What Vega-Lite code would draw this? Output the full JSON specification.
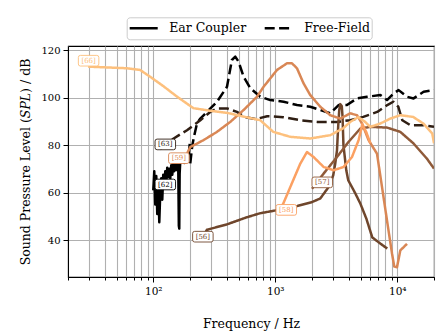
{
  "$schema": "https://vega.github.io/schema/vega-lite/v6.json",
  "width": 366,
  "height": 231,
  "autosize": {"type": "none"},
  "padding": {"left": 68, "top": 46, "right": 14, "bottom": 59},
  "background": "white",
  "config": {
    "view": {"stroke": "black", "strokeWidth": 1.1},
    "font": "DejaVu Serif",
    "axis": {
      "domainColor": "black",
      "tickColor": "black",
      "labelColor": "black",
      "titleColor": "black",
      "labelFont": "DejaVu Serif",
      "titleFont": "DejaVu Serif",
      "titleFontWeight": "normal",
      "grid": true,
      "gridColor": "#b0b0b0",
      "gridWidth": 1.1
    }
  },
  "datasets": {
    "lines": [
      {"s": "[62]", "t": "Ear Coupler", "f": 100.0, "y": 60.9},
      {"s": "[62]", "t": "Ear Coupler", "f": 101.9, "y": 69.0},
      {"s": "[62]", "t": "Ear Coupler", "f": 103.8, "y": 55.0},
      {"s": "[62]", "t": "Ear Coupler", "f": 105.8, "y": 67.0},
      {"s": "[62]", "t": "Ear Coupler", "f": 107.8, "y": 51.0},
      {"s": "[62]", "t": "Ear Coupler", "f": 109.9, "y": 64.0},
      {"s": "[62]", "t": "Ear Coupler", "f": 112.0, "y": 47.5},
      {"s": "[62]", "t": "Ear Coupler", "f": 114.1, "y": 60.0},
      {"s": "[62]", "t": "Ear Coupler", "f": 116.3, "y": 66.0},
      {"s": "[62]", "t": "Ear Coupler", "f": 118.5, "y": 57.0},
      {"s": "[62]", "t": "Ear Coupler", "f": 120.7, "y": 67.5},
      {"s": "[62]", "t": "Ear Coupler", "f": 123.0, "y": 62.0},
      {"s": "[62]", "t": "Ear Coupler", "f": 125.4, "y": 69.0},
      {"s": "[62]", "t": "Ear Coupler", "f": 127.8, "y": 64.5},
      {"s": "[62]", "t": "Ear Coupler", "f": 130.2, "y": 70.5},
      {"s": "[62]", "t": "Ear Coupler", "f": 132.7, "y": 66.5},
      {"s": "[62]", "t": "Ear Coupler", "f": 135.2, "y": 70.0},
      {"s": "[62]", "t": "Ear Coupler", "f": 137.8, "y": 66.0},
      {"s": "[62]", "t": "Ear Coupler", "f": 140.4, "y": 71.5},
      {"s": "[62]", "t": "Ear Coupler", "f": 143.1, "y": 67.5},
      {"s": "[62]", "t": "Ear Coupler", "f": 145.8, "y": 72.0},
      {"s": "[62]", "t": "Ear Coupler", "f": 148.6, "y": 69.0},
      {"s": "[62]", "t": "Ear Coupler", "f": 151.4, "y": 73.0},
      {"s": "[62]", "t": "Ear Coupler", "f": 154.3, "y": 69.5},
      {"s": "[62]", "t": "Ear Coupler", "f": 157.3, "y": 73.0},
      {"s": "[62]", "t": "Ear Coupler", "f": 160.3, "y": 70.0},
      {"s": "[62]", "t": "Ear Coupler", "f": 162.0, "y": 46.0},
      {"s": "[62]", "t": "Ear Coupler", "f": 163.3, "y": 44.8},
      {"s": "[62]", "t": "Ear Coupler", "f": 164.5, "y": 68.0},
      {"s": "[62]", "t": "Ear Coupler", "f": 166.4, "y": 73.0},
      {"s": "[62]", "t": "Ear Coupler", "f": 172.9, "y": 74.0},
      {"s": "[62]", "t": "Ear Coupler", "f": 179.5, "y": 72.5},
      {"s": "[62]", "t": "Ear Coupler", "f": 186.4, "y": 75.5},
      {"s": "[62]", "t": "Ear Coupler", "f": 193.6, "y": 74.0},
      {"s": "[62]", "t": "Ear Coupler", "f": 199.0, "y": 80.5},
      {"s": "[62]", "t": "Free-Field", "f": 201, "y": 72.3},
      {"s": "[62]", "t": "Free-Field", "f": 209, "y": 80.0},
      {"s": "[62]", "t": "Free-Field", "f": 217, "y": 84.2},
      {"s": "[62]", "t": "Free-Field", "f": 228, "y": 89.1},
      {"s": "[62]", "t": "Free-Field", "f": 243, "y": 91.2},
      {"s": "[62]", "t": "Free-Field", "f": 275, "y": 94.0},
      {"s": "[62]", "t": "Free-Field", "f": 333, "y": 98.3},
      {"s": "[62]", "t": "Free-Field", "f": 402, "y": 104.6},
      {"s": "[62]", "t": "Free-Field", "f": 441, "y": 115.9},
      {"s": "[62]", "t": "Free-Field", "f": 470, "y": 117.3},
      {"s": "[62]", "t": "Free-Field", "f": 500, "y": 115.2},
      {"s": "[62]", "t": "Free-Field", "f": 550, "y": 108.8},
      {"s": "[62]", "t": "Free-Field", "f": 623, "y": 104.1},
      {"s": "[62]", "t": "Free-Field", "f": 753, "y": 100.4},
      {"s": "[62]", "t": "Free-Field", "f": 910, "y": 99.0},
      {"s": "[62]", "t": "Free-Field", "f": 1170, "y": 98.3},
      {"s": "[62]", "t": "Free-Field", "f": 1507, "y": 96.9},
      {"s": "[62]", "t": "Free-Field", "f": 1936, "y": 96.2},
      {"s": "[62]", "t": "Free-Field", "f": 2338, "y": 94.8},
      {"s": "[62]", "t": "Free-Field", "f": 2825, "y": 93.4},
      {"s": "[62]", "t": "Free-Field", "f": 3306, "y": 96.9},
      {"s": "[62]", "t": "Free-Field", "f": 3870, "y": 96.9},
      {"s": "[62]", "t": "Free-Field", "f": 4677, "y": 99.7},
      {"s": "[62]", "t": "Free-Field", "f": 5650, "y": 100.4},
      {"s": "[62]", "t": "Free-Field", "f": 7260, "y": 101.1},
      {"s": "[62]", "t": "Free-Field", "f": 8240, "y": 99.0},
      {"s": "[62]", "t": "Free-Field", "f": 9330, "y": 101.8},
      {"s": "[62]", "t": "Free-Field", "f": 10260, "y": 103.2},
      {"s": "[62]", "t": "Free-Field", "f": 12020, "y": 100.4},
      {"s": "[62]", "t": "Free-Field", "f": 13600, "y": 99.7},
      {"s": "[62]", "t": "Free-Field", "f": 16440, "y": 102.5},
      {"s": "[62]", "t": "Free-Field", "f": 20000, "y": 103.2},
      {"s": "[63]", "t": "Free-Field", "f": 114, "y": 78.3},
      {"s": "[63]", "t": "Free-Field", "f": 147, "y": 82.8},
      {"s": "[63]", "t": "Free-Field", "f": 189, "y": 86.3},
      {"s": "[63]", "t": "Free-Field", "f": 243, "y": 90.5},
      {"s": "[63]", "t": "Free-Field", "f": 293, "y": 94.0},
      {"s": "[63]", "t": "Free-Field", "f": 333, "y": 95.5},
      {"s": "[63]", "t": "Free-Field", "f": 402, "y": 95.5},
      {"s": "[63]", "t": "Free-Field", "f": 485, "y": 94.0},
      {"s": "[63]", "t": "Free-Field", "f": 567, "y": 91.8},
      {"s": "[63]", "t": "Free-Field", "f": 698, "y": 91.0},
      {"s": "[63]", "t": "Free-Field", "f": 859, "y": 92.2},
      {"s": "[63]", "t": "Free-Field", "f": 1164, "y": 91.8},
      {"s": "[63]", "t": "Free-Field", "f": 1603, "y": 90.5},
      {"s": "[63]", "t": "Free-Field", "f": 2208, "y": 89.8},
      {"s": "[63]", "t": "Free-Field", "f": 3220, "y": 89.8},
      {"s": "[63]", "t": "Free-Field", "f": 4121, "y": 90.5},
      {"s": "[63]", "t": "Free-Field", "f": 5260, "y": 91.9},
      {"s": "[63]", "t": "Free-Field", "f": 6850, "y": 94.0},
      {"s": "[63]", "t": "Free-Field", "f": 8280, "y": 96.9},
      {"s": "[63]", "t": "Free-Field", "f": 9270, "y": 98.3},
      {"s": "[63]", "t": "Free-Field", "f": 10190, "y": 96.2},
      {"s": "[63]", "t": "Free-Field", "f": 10990, "y": 90.5},
      {"s": "[63]", "t": "Free-Field", "f": 12790, "y": 88.4},
      {"s": "[63]", "t": "Free-Field", "f": 16360, "y": 88.4},
      {"s": "[63]", "t": "Free-Field", "f": 20000, "y": 87.7},
      {"s": "[56]", "t": "Ear Coupler", "f": 257, "y": 41.5},
      {"s": "[56]", "t": "Ear Coupler", "f": 275, "y": 44.3},
      {"s": "[56]", "t": "Ear Coupler", "f": 402, "y": 46.6},
      {"s": "[56]", "t": "Ear Coupler", "f": 586, "y": 49.6},
      {"s": "[56]", "t": "Ear Coupler", "f": 753, "y": 51.3},
      {"s": "[56]", "t": "Ear Coupler", "f": 1014, "y": 52.5},
      {"s": "[56]", "t": "Ear Coupler", "f": 1413, "y": 53.9},
      {"s": "[56]", "t": "Ear Coupler", "f": 2000, "y": 56.0},
      {"s": "[56]", "t": "Ear Coupler", "f": 2338, "y": 57.5},
      {"s": "[56]", "t": "Ear Coupler", "f": 2734, "y": 62.3},
      {"s": "[56]", "t": "Ear Coupler", "f": 2986, "y": 67.3},
      {"s": "[56]", "t": "Ear Coupler", "f": 3100, "y": 72.2},
      {"s": "[56]", "t": "Ear Coupler", "f": 3205, "y": 77.8},
      {"s": "[56]", "t": "Ear Coupler", "f": 3283, "y": 88.4},
      {"s": "[56]", "t": "Ear Coupler", "f": 3345, "y": 94.8},
      {"s": "[56]", "t": "Ear Coupler", "f": 3412, "y": 97.3},
      {"s": "[56]", "t": "Ear Coupler", "f": 3510, "y": 96.4},
      {"s": "[56]", "t": "Ear Coupler", "f": 3560, "y": 92.0},
      {"s": "[56]", "t": "Ear Coupler", "f": 3620, "y": 80.0},
      {"s": "[56]", "t": "Ear Coupler", "f": 3820, "y": 69.4},
      {"s": "[56]", "t": "Ear Coupler", "f": 3964, "y": 65.2},
      {"s": "[56]", "t": "Ear Coupler", "f": 4525, "y": 59.7},
      {"s": "[56]", "t": "Ear Coupler", "f": 4977, "y": 55.4},
      {"s": "[56]", "t": "Ear Coupler", "f": 5570, "y": 49.1},
      {"s": "[56]", "t": "Ear Coupler", "f": 6240, "y": 41.1},
      {"s": "[56]", "t": "Ear Coupler", "f": 7260, "y": 38.5},
      {"s": "[56]", "t": "Ear Coupler", "f": 8280, "y": 36.4},
      {"s": "[57]", "t": "Ear Coupler", "f": 2000, "y": 61.6},
      {"s": "[57]", "t": "Ear Coupler", "f": 2490, "y": 68.0},
      {"s": "[57]", "t": "Ear Coupler", "f": 3205, "y": 75.0},
      {"s": "[57]", "t": "Ear Coupler", "f": 3990, "y": 81.4},
      {"s": "[57]", "t": "Ear Coupler", "f": 4977, "y": 87.0},
      {"s": "[57]", "t": "Ear Coupler", "f": 6011, "y": 87.7},
      {"s": "[57]", "t": "Ear Coupler", "f": 8240, "y": 87.4},
      {"s": "[57]", "t": "Ear Coupler", "f": 10580, "y": 85.6},
      {"s": "[57]", "t": "Ear Coupler", "f": 13600, "y": 80.7},
      {"s": "[57]", "t": "Ear Coupler", "f": 17500, "y": 74.3},
      {"s": "[57]", "t": "Ear Coupler", "f": 20000, "y": 70.1},
      {"s": "[59]", "t": "Ear Coupler", "f": 189, "y": 76.4},
      {"s": "[59]", "t": "Ear Coupler", "f": 201, "y": 79.2},
      {"s": "[59]", "t": "Ear Coupler", "f": 258, "y": 82.1},
      {"s": "[59]", "t": "Ear Coupler", "f": 333, "y": 85.6},
      {"s": "[59]", "t": "Ear Coupler", "f": 428, "y": 89.8},
      {"s": "[59]", "t": "Ear Coupler", "f": 550, "y": 94.8},
      {"s": "[59]", "t": "Ear Coupler", "f": 708, "y": 100.4},
      {"s": "[59]", "t": "Ear Coupler", "f": 802, "y": 104.6},
      {"s": "[59]", "t": "Ear Coupler", "f": 1033, "y": 111.7},
      {"s": "[59]", "t": "Ear Coupler", "f": 1247, "y": 114.5},
      {"s": "[59]", "t": "Ear Coupler", "f": 1371, "y": 114.5},
      {"s": "[59]", "t": "Ear Coupler", "f": 1507, "y": 112.4},
      {"s": "[59]", "t": "Ear Coupler", "f": 1707, "y": 106.0},
      {"s": "[59]", "t": "Ear Coupler", "f": 1936, "y": 101.1},
      {"s": "[59]", "t": "Ear Coupler", "f": 2338, "y": 96.2},
      {"s": "[59]", "t": "Ear Coupler", "f": 2825, "y": 92.6},
      {"s": "[59]", "t": "Ear Coupler", "f": 3412, "y": 91.2},
      {"s": "[59]", "t": "Ear Coupler", "f": 4121, "y": 93.4},
      {"s": "[59]", "t": "Ear Coupler", "f": 4677, "y": 92.6},
      {"s": "[59]", "t": "Ear Coupler", "f": 5140, "y": 89.1},
      {"s": "[59]", "t": "Ear Coupler", "f": 5820, "y": 82.1},
      {"s": "[59]", "t": "Ear Coupler", "f": 6820, "y": 76.4},
      {"s": "[59]", "t": "Ear Coupler", "f": 7500, "y": 62.3},
      {"s": "[59]", "t": "Ear Coupler", "f": 8240, "y": 48.2},
      {"s": "[59]", "t": "Ear Coupler", "f": 9060, "y": 34.2},
      {"s": "[59]", "t": "Ear Coupler", "f": 9450, "y": 28.8},
      {"s": "[59]", "t": "Ear Coupler", "f": 9950, "y": 28.5},
      {"s": "[59]", "t": "Ear Coupler", "f": 10590, "y": 35.6},
      {"s": "[59]", "t": "Ear Coupler", "f": 12020, "y": 38.4},
      {"s": "[58]", "t": "Ear Coupler", "f": 1100, "y": 53.5},
      {"s": "[58]", "t": "Ear Coupler", "f": 1164, "y": 55.4},
      {"s": "[58]", "t": "Ear Coupler", "f": 1327, "y": 62.3},
      {"s": "[58]", "t": "Ear Coupler", "f": 1603, "y": 72.2},
      {"s": "[58]", "t": "Ear Coupler", "f": 1820, "y": 77.1},
      {"s": "[58]", "t": "Ear Coupler", "f": 2060, "y": 75.0},
      {"s": "[58]", "t": "Ear Coupler", "f": 2490, "y": 70.8},
      {"s": "[58]", "t": "Ear Coupler", "f": 3007, "y": 69.4},
      {"s": "[58]", "t": "Ear Coupler", "f": 3631, "y": 70.8},
      {"s": "[58]", "t": "Ear Coupler", "f": 4255, "y": 75.0},
      {"s": "[58]", "t": "Ear Coupler", "f": 4820, "y": 82.1},
      {"s": "[58]", "t": "Ear Coupler", "f": 5170, "y": 88.8},
      {"s": "[58]", "t": "Ear Coupler", "f": 5570, "y": 85.5},
      {"s": "[58]", "t": "Ear Coupler", "f": 6011, "y": 80.8},
      {"s": "[66]", "t": "Ear Coupler", "f": 29.3, "y": 113.1},
      {"s": "[66]", "t": "Ear Coupler", "f": 44.5, "y": 112.7},
      {"s": "[66]", "t": "Ear Coupler", "f": 61.2, "y": 112.4},
      {"s": "[66]", "t": "Ear Coupler", "f": 78, "y": 111.7},
      {"s": "[66]", "t": "Ear Coupler", "f": 94.5, "y": 108.8},
      {"s": "[66]", "t": "Ear Coupler", "f": 120.7, "y": 104.9},
      {"s": "[66]", "t": "Ear Coupler", "f": 157, "y": 100.4},
      {"s": "[66]", "t": "Ear Coupler", "f": 213, "y": 95.6},
      {"s": "[66]", "t": "Ear Coupler", "f": 293, "y": 94.5},
      {"s": "[66]", "t": "Ear Coupler", "f": 404, "y": 93.6},
      {"s": "[66]", "t": "Ear Coupler", "f": 589, "y": 91.7},
      {"s": "[66]", "t": "Ear Coupler", "f": 753, "y": 90.5},
      {"s": "[66]", "t": "Ear Coupler", "f": 963, "y": 85.6},
      {"s": "[66]", "t": "Ear Coupler", "f": 1327, "y": 83.5},
      {"s": "[66]", "t": "Ear Coupler", "f": 1936, "y": 82.8},
      {"s": "[66]", "t": "Ear Coupler", "f": 2825, "y": 84.2},
      {"s": "[66]", "t": "Ear Coupler", "f": 3600, "y": 87.1},
      {"s": "[66]", "t": "Ear Coupler", "f": 4121, "y": 89.8},
      {"s": "[66]", "t": "Ear Coupler", "f": 4800, "y": 91.8},
      {"s": "[66]", "t": "Ear Coupler", "f": 5450, "y": 89.8},
      {"s": "[66]", "t": "Ear Coupler", "f": 6011, "y": 87.7},
      {"s": "[66]", "t": "Ear Coupler", "f": 7260, "y": 89.1},
      {"s": "[66]", "t": "Ear Coupler", "f": 8768, "y": 91.2},
      {"s": "[66]", "t": "Ear Coupler", "f": 10580, "y": 92.6},
      {"s": "[66]", "t": "Ear Coupler", "f": 13480, "y": 91.9},
      {"s": "[66]", "t": "Ear Coupler", "f": 16360, "y": 89.1},
      {"s": "[66]", "t": "Ear Coupler", "f": 19350, "y": 84.9},
      {"s": "[66]", "t": "Ear Coupler", "f": 20000, "y": 80.8}
    ],
    "labels": [
      {"s": "[66]", "f": 29.5, "y": 115.6},
      {"s": "[63]", "f": 125.5, "y": 80.3},
      {"s": "[59]", "f": 162, "y": 74.5},
      {"s": "[62]", "f": 125.5, "y": 63.4},
      {"s": "[56]", "f": 255, "y": 41.4},
      {"s": "[57]", "f": 2427, "y": 64.3},
      {"s": "[58]", "f": 1231, "y": 52.7}
    ]
  },
  "layer": [
    {
      "data": {"name": "lines"},
      "mark": {"type": "line", "strokeWidth": 2.5, "strokeJoin": "round", "clip": true},
      "encoding": {
        "x": {
          "field": "f", "type": "quantitative",
          "scale": {"type": "log", "domain": [20, 20000], "nice": false},
          "axis": {
            "title": "Frequency / Hz",
            "titleFontSize": 12.5,
            "titleBaseline": "middle",
            "titleY": 46,
            "values": [20, 30, 40, 50, 60, 70, 80, 90, 100, 200, 300, 400, 500, 600, 700, 800, 900, 1000, 2000, 3000, 4000, 5000, 6000, 7000, 8000, 9000, 10000, 20000],
            "labelExpr": "datum.value == 100 ? '10²' : datum.value == 1000 ? '10³' : datum.value == 10000 ? '10⁴' : ''",
            "labelFontSize": 10.5,
            "labelPadding": 4,
            "labelOverlap": false,
            "labelFlush": false,
            "tickSize": {"condition": {"test": "datum.value == 100 || datum.value == 1000 || datum.value == 10000", "value": 5}, "value": 3},
            "tickWidth": 1
          }
        },
        "y": {
          "field": "y", "type": "quantitative",
          "scale": {"domain": [24.4, 121.8], "nice": false, "zero": false},
          "axis": {
            "title": "Sound Pressure Level (𝑆𝑃𝐿) / dB",
            "titleFontSize": 12.5,
            "titleBaseline": "middle",
            "titleX": -43,
            "titleY": 115.5,
            "values": [40, 60, 80, 100, 120],
            "labelFontSize": 10,
            "labelPadding": 3,
            "tickSize": 5,
            "tickWidth": 1
          }
        },
        "color": {
          "field": "s", "type": "nominal",
          "scale": {"domain": ["[62]", "[63]", "[56]", "[57]", "[59]", "[58]", "[66]"], "range": ["#000000", "#2f1e13", "#6f462c", "#8f5a39", "#d98755", "#fba062", "#fdc07d"]},
          "legend": null
        },
        "strokeDash": {
          "field": "t", "type": "nominal",
          "scale": {"domain": ["Ear Coupler", "Free-Field"], "range": [[1, 0], [10, 4.4]]},
          "legend": {
            "orient": "none",
            "legendX": 58.7,
            "legendY": -28.7,
            "direction": "horizontal",
            "title": null,
            "padding": 1.5,
            "clipHeight": 19,
            "strokeColor": "#cccccc",
            "fillColor": "white",
            "cornerRadius": 3,
            "symbolType": "stroke",
            "symbolSize": 784,
            "symbolStrokeWidth": 2.5,
            "symbolStrokeColor": "black",
            "labelFont": "DejaVu Serif",
            "labelFontSize": 12.5,
            "labelColor": "black",
            "labelOffset": 10,
            "columnPadding": 16
          }
        }
      }
    },
    {
      "data": {"name": "labels"},
      "mark": {"type": "point", "shape": "M-0.8,-0.52H0.8Q1,-0.52 1,-0.32V0.32Q1,0.52 0.8,0.52H-0.8Q-1,0.52 -1,0.32V-0.32Q-1,-0.52 -0.8,-0.52Z", "size": 420, "fill": "white", "filled": false, "fillOpacity": 1, "opacity": 1, "strokeWidth": 0.9},
      "encoding": {
        "x": {"field": "f", "type": "quantitative"},
        "y": {"field": "y", "type": "quantitative"},
        "stroke": {
          "field": "s", "type": "nominal",
          "scale": {"domain": ["[62]", "[63]", "[56]", "[57]", "[59]", "[58]", "[66]"], "range": ["#000000", "#2f1e13", "#6f462c", "#8f5a39", "#d98755", "#fba062", "#fdc07d"]},
          "legend": null
        }
      }
    },
    {
      "data": {"name": "labels"},
      "mark": {"type": "text", "fontSize": 7, "font": "DejaVu Serif", "align": "center", "baseline": "middle"},
      "encoding": {
        "x": {"field": "f", "type": "quantitative"},
        "y": {"field": "y", "type": "quantitative"},
        "text": {"field": "s"},
        "color": {"field": "s", "type": "nominal", "legend": null}
      }
    }
  ]
}
